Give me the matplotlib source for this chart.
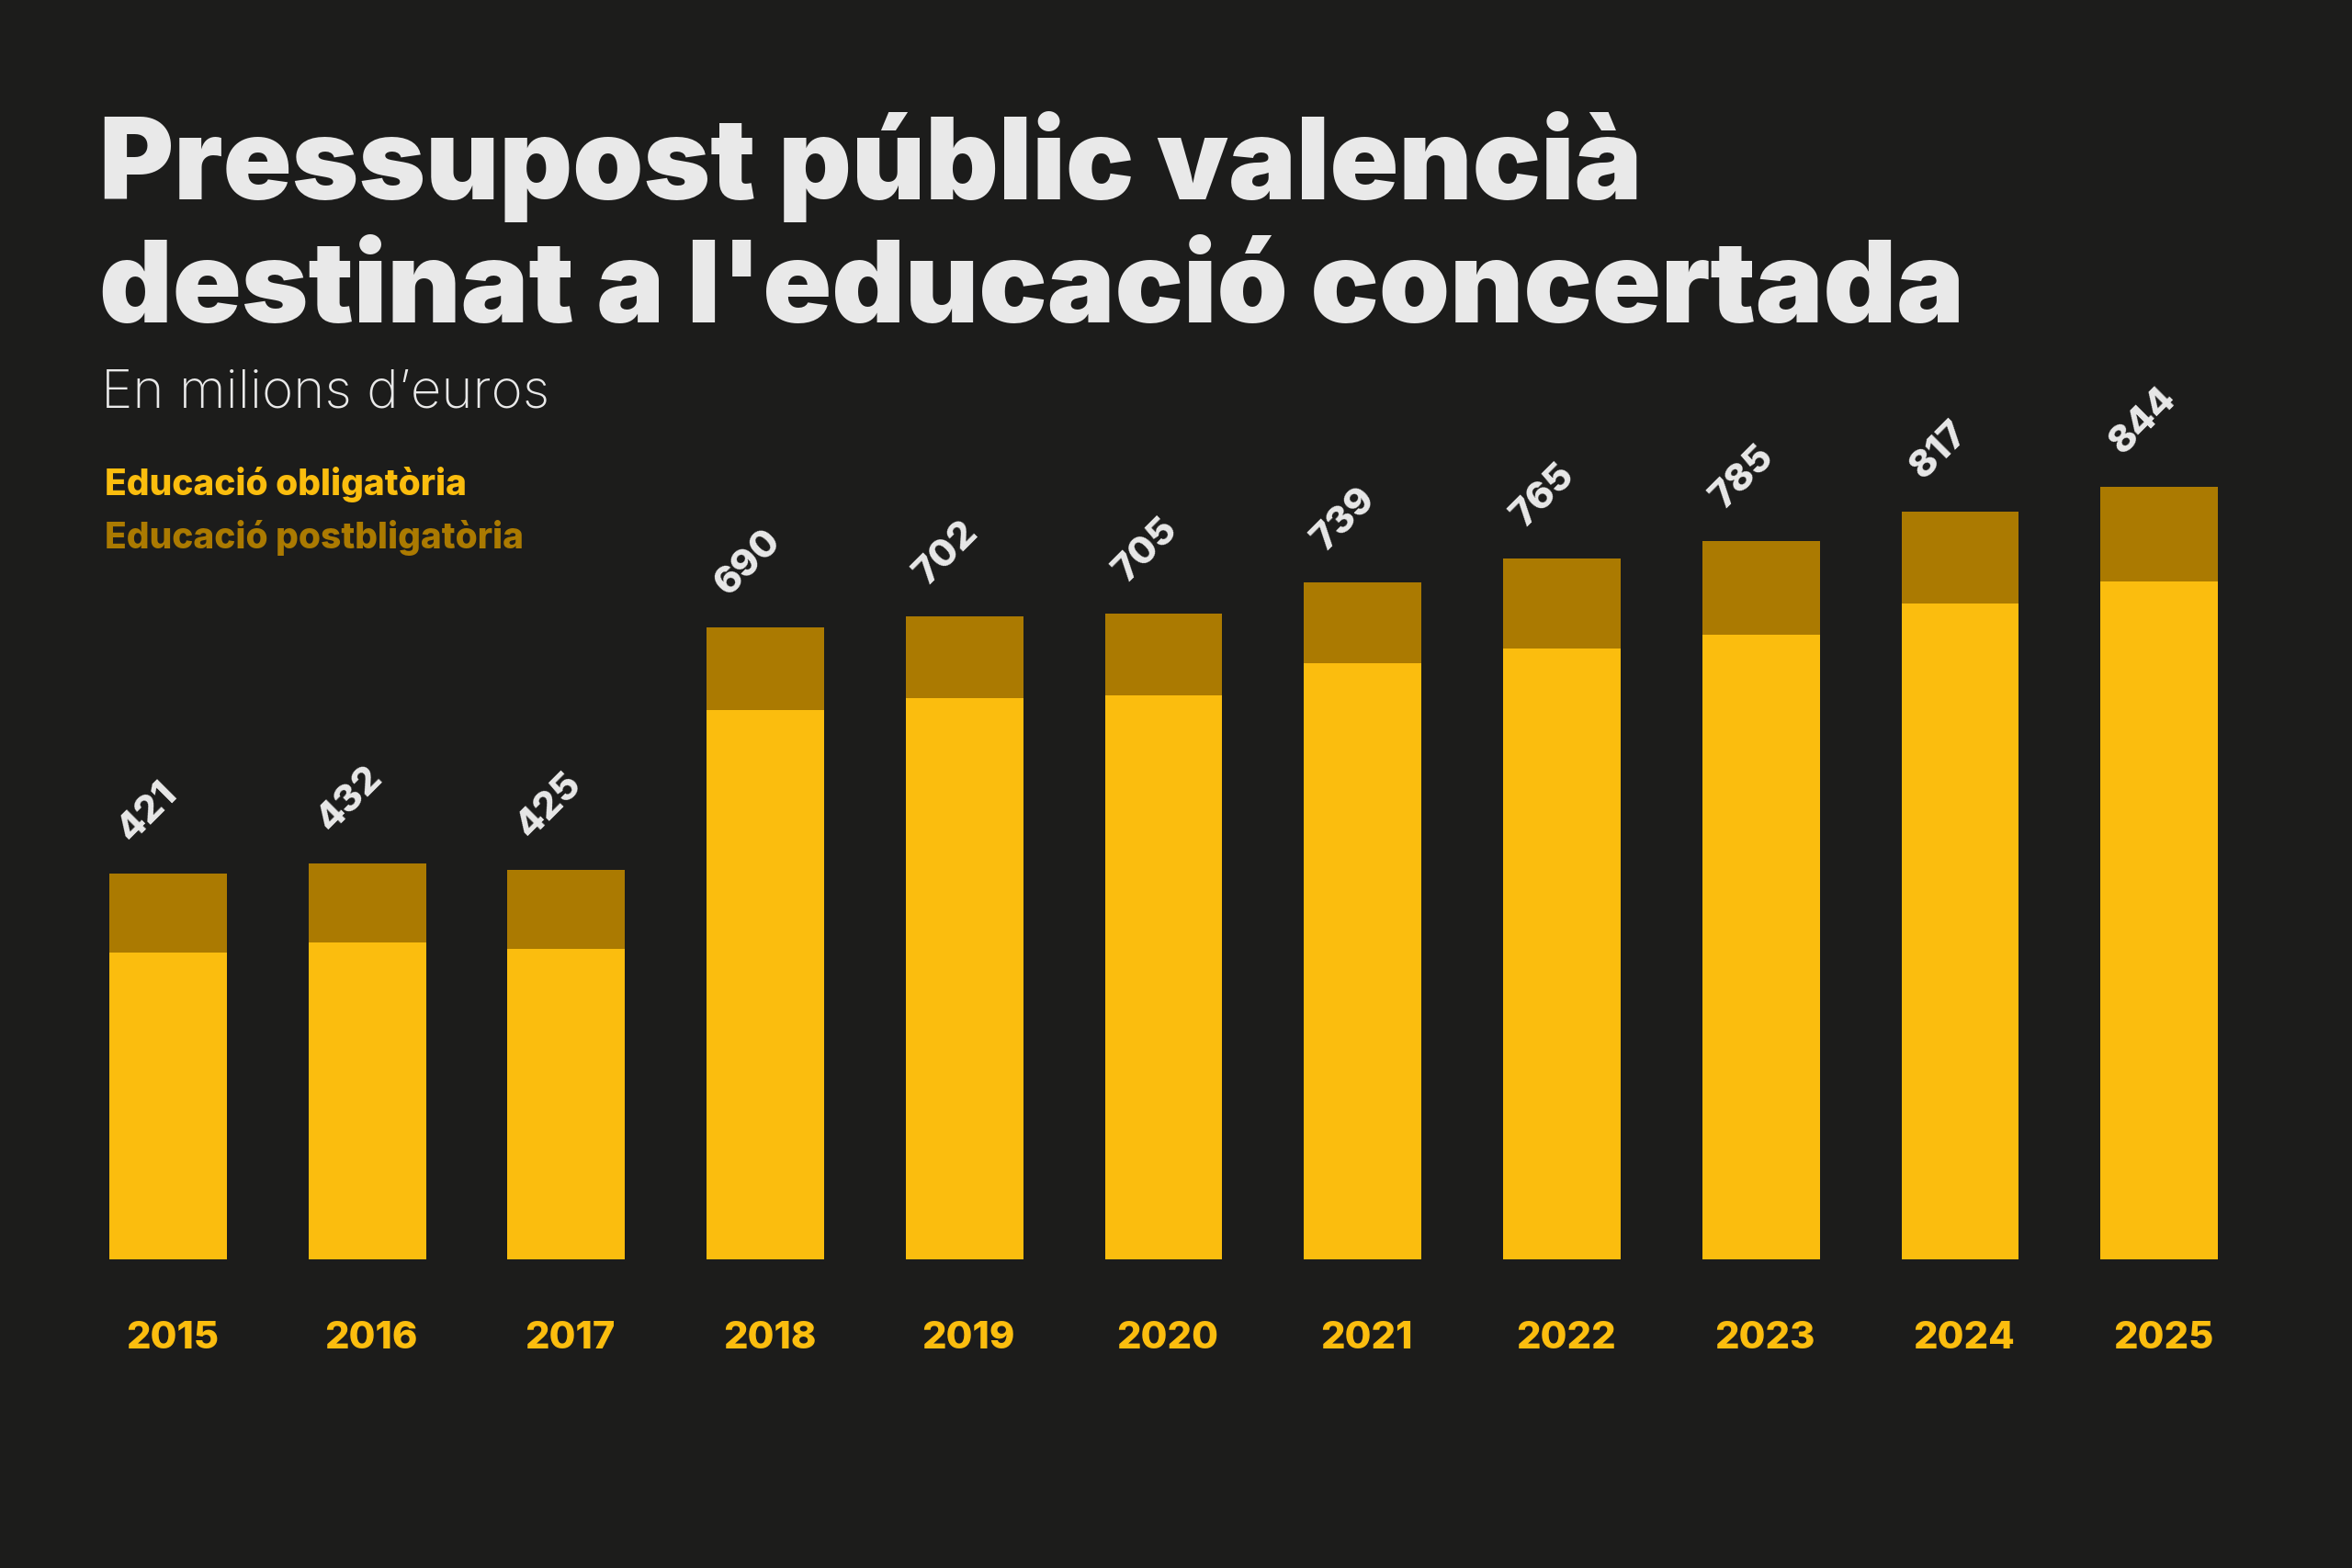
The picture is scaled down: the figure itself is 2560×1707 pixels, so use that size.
import matplotlib.pyplot as plt
from matplotlib.transforms import blended_transform_factory


years = ["2015", "2016", "2017", "2018", "2019", "2020",
         "2021", "2022", "2023", "2024", "2025"]
totals = [421, 432, 425, 690, 702, 705, 739, 765, 785, 817, 844]
obligatoria = [335, 346, 339, 600, 613, 616, 651, 667, 682, 716, 740]
postobligatoria = [t - o for t, o in zip(totals, obligatoria)]

BG = "#1c1c1b"
YELLOW = "#fbbd0e"
GOLD = "#ab7a01"
TEXT = "#e9e9e9"
FONT = "Inter"

plt.rcParams["font.family"] = [FONT, "DejaVu Sans"]

fig = plt.figure(figsize=(25.6, 17.07), dpi=100, facecolor=BG)
ax = fig.add_axes([0.0291, 0.197, 0.9313, 0.5837])
ax.set_facecolor(BG)

x = list(range(len(years)))
ax.bar(x, obligatoria, width=0.59, color=YELLOW)
ax.bar(x, postobligatoria, width=0.59, bottom=obligatoria, color=GOLD)

ax.set_xlim(-0.5, len(years) - 0.5)
ax.set_ylim(0, 1000)
ax.axis("off")

# etiquetes de total, girades
for xi, t in zip(x, totals):
    ax.annotate(str(t), xy=(xi, t), xytext=(-29, 24), textcoords="offset points",
                rotation=45, rotation_mode="anchor", ha="left", va="baseline",
                fontsize=30, fontweight="heavy", color=TEXT)

# anys sota les barres
tr = blended_transform_factory(ax.transData, fig.transFigure)
for xi, y in zip(x, years):
    ax.text(xi + 0.02, 0.140, y, transform=tr, ha="center", va="baseline",
            fontsize=30, fontweight="heavy", color=YELLOW)

fig.text(0.042, 0.873, "Pressupost públic valencià", fontsize=89,
         fontweight="black", color=TEXT, va="baseline")
fig.text(0.042, 0.7945, "destinat a l'educació concertada", fontsize=89,
         fontweight="black", color=TEXT, va="baseline")
fig.text(0.043, 0.740, "En milions d\u2019euros", fontsize=42,
         fontweight="light", color=TEXT, va="baseline")

fig.text(0.0446, 0.6845, "Educació obligatòria", fontsize=28,
         fontweight="heavy", color=YELLOW, va="baseline")
fig.text(0.0446, 0.650, "Educació postbligatòria", fontsize=28,
         fontweight="heavy", color=GOLD, va="baseline")

fig.savefig("out.png", dpi=100, facecolor=BG)
